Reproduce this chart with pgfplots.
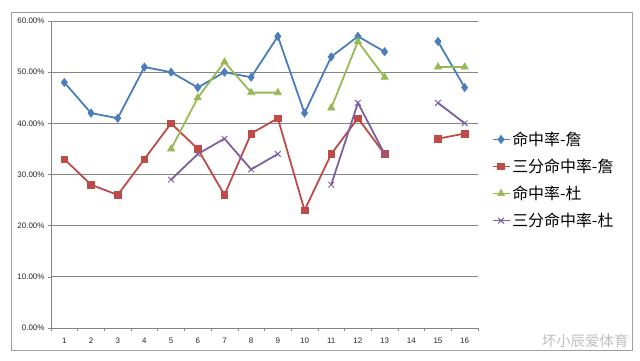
\documentclass[border=0pt]{standalone}
\usepackage{fontspec}
\setmainfont{Liberation Sans}
\newfontfamily\cjk{Noto Sans CJK SC}
\usepackage{pgfplots}
\pgfplotsset{compat=1.18}
\definecolor{cblue}{HTML}{4A7EBB}
\definecolor{cred}{HTML}{BE4B48}
\definecolor{cgreen}{HTML}{98B954}
\definecolor{cpurple}{HTML}{7D60A0}
\definecolor{cgrid}{HTML}{868686}
\begin{document}
\begin{tikzpicture}[x=1bp,y=1bp]
\path (0,0) rectangle (640,360);
\draw[cgrid!80, line width=0.8bp] (11,10) rectangle (632,348);
\node[anchor=east, text=black!25, font=\cjk\fontsize{14.5}{16}\selectfont] at (632,19) {坏小辰爱体育};
\begin{axis}[
  at={(51bp,32bp)}, anchor=south west,
  scale only axis, width=427bp, height=307bp,
  xmin=0.5, xmax=16.5, ymin=0, ymax=60,
  axis x line*=bottom, axis y line*=left,
  axis line style={cgrid, line width=0.8bp},
  xtick={1,...,16}, major x tick style={draw=none},
  minor xtick={0.5,1.5,...,16.5}, minor tick length=3bp,
  minor x tick style={cgrid, line width=0.6bp},
  ytick={0,10,...,60},
  yticklabels={0.00\%,10.00\%,20.00\%,30.00\%,40.00\%,50.00\%,60.00\%},
  major tick length=3bp, tick align=outside,
  major y tick style={cgrid, line width=0.6bp},
  ymajorgrids, grid style={cgrid, line width=0.8bp},
  tick label style={font=\fontsize{8}{9}\selectfont, text=black!85},
  xticklabel style={yshift=-3bp},
  /pgf/number format/assume math mode=true,
  unbounded coords=jump,
  every axis plot/.append style={line width=1.8bp},
  legend style={at={(1.025,0.482)}, anchor=west, draw=none, fill=none,
    font=\cjk\fontsize{16}{17}\selectfont, row sep=8bp,
    /tikz/every even column/.append style={column sep=0pt}},
  legend cell align=left,
  legend image code/.code={
    \draw[#1, line width=1.4bp] (0bp,0bp) -- (17bp,0bp);
    \draw[#1, mark repeat=2, mark phase=2, line width=1bp] plot coordinates {(0bp,0bp) (8.5bp,0bp) (17bp,0bp)};
  },
]
\addplot[cblue, mark=diamond*, mark size=4bp, mark options={line width=0.8bp}] coordinates {
(1,48) (2,42) (3,41) (4,51) (5,50) (6,47) (7,50) (8,49) (9,57) (10,42) (11,53) (12,57) (13,54) (14,nan) (15,56) (16,47)};
\addlegendentry{命中率-詹}
\addplot[cred, mark=square*, mark size=3.3bp, mark options={line width=0.6bp}] coordinates {
(1,33) (2,28) (3,26) (4,33) (5,40) (6,35) (7,26) (8,38) (9,41) (10,23) (11,34) (12,41) (13,34) (14,nan) (15,37) (16,38)};
\addlegendentry{三分命中率-詹}
\addplot[cgreen, mark=triangle*, mark size=4.2bp, mark options={line width=0.6bp}] coordinates {
(5,35) (6,45) (7,52) (8,46) (9,46) (10,nan) (11,43) (12,56) (13,49) (14,nan) (15,51) (16,51)};
\addlegendentry{命中率-杜}
\addplot[cpurple, mark=x, mark size=4bp, mark options={line width=1bp}] coordinates {
(5,29) (6,34) (7,37) (8,31) (9,34) (10,nan) (11,28) (12,44) (13,34) (14,nan) (15,44) (16,40)};
\addlegendentry{三分命中率-杜}
\end{axis}
\end{tikzpicture}
\end{document}
